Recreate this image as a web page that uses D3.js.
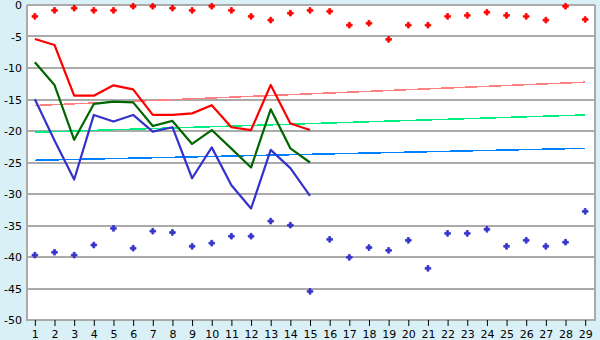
<!DOCTYPE html>
<html>
<head>
<meta charset="utf-8">
<script src="https://cdn.jsdelivr.net/npm/d3@7"></script>
<style>
  body { margin: 0; background: #d9f0f7; }
  svg { display: block; }
</style>
</head>
<body>
<div id="chart"></div>
<script>
var width = 600;
var height = 340;

// x categories 1..29
var days = d3.range(1, 30);
var yTicks = [0, -5, -10, -15, -20, -25, -30, -35, -40, -45, -50];

// scatter series (all 29 days)
var redDots = [-1.8, -0.85, -0.5, -0.85, -0.85, -0.2, -0.2, -0.5, -0.85, -0.2,
  -0.85, -1.8, -2.4, -1.3, -0.85, -1.0, -3.2, -2.9, -5.45, -3.2,
  -3.2, -1.8, -1.65, -1.15, -1.65, -1.8, -2.4, -0.2, -2.3];
var blueDots = [-39.7, -39.25, -39.7, -38.1, -35.45, -38.6, -35.9, -36.1, -38.3, -37.8,
  -36.7, -36.7, -34.3, -34.95, -45.45, -37.2, -40.05, -38.5, -38.95, -37.35,
  -41.8, -36.25, -36.25, -35.6, -38.3, -37.35, -38.3, -37.65, -32.75];

// line series (days 1..15)
var redLine = [-5.4, -6.35, -14.4, -14.4, -12.75, -13.4, -17.45, -17.45, -17.2, -15.9,
  -19.4, -19.85, -12.7, -18.8, -19.85];
var greenLine = [-9.1, -12.7, -21.4, -15.7, -15.35, -15.45, -19.2, -18.4, -22.05, -19.85,
  -22.8, -25.8, -16.55, -22.75, -25.0];
var blueLine = [-14.95, -21.5, -27.7, -17.45, -18.5, -17.45, -20.1, -19.4, -27.5, -22.6,
  -28.6, -32.3, -23.0, -25.9, -30.3];

// trend lines: value at day 1 and day 29
var trendDays = [1, 29];
var redTrend = [-15.95, -12.25];
var greenTrend = [-20.2, -17.45];
var blueTrend = [-24.65, -22.75];

var plotLeft = 27, plotRight = 595, plotTop = 5, plotBottom = 320;

var svg = d3.select("#chart").append("svg")
  .attr("width", width)
  .attr("height", height);

var x = d3.scaleLinear().domain([0.6, 29.5]).range([plotLeft, plotRight]);
var y = d3.scaleLinear().domain([0, -50]).range([plotTop, plotBottom]);

svg.append("rect")
  .attr("x", plotLeft).attr("y", plotTop)
  .attr("width", plotRight - plotLeft).attr("height", plotBottom - plotTop)
  .attr("fill", "#fff");

// gridlines
svg.append("g").selectAll("line")
  .data(yTicks)
  .enter().append("line")
  .attr("x1", plotLeft).attr("x2", plotRight)
  .attr("y1", function(d) { return Math.round(y(d)); })
  .attr("y2", function(d) { return Math.round(y(d)); })
  .attr("stroke", "#aaa")
  .attr("stroke-width", 2)
  .attr("shape-rendering", "crispEdges");

// frame
svg.append("path")
  .attr("d", "M" + plotLeft + "," + plotTop + "V" + plotBottom + "H" + plotRight + "V" + plotTop)
  .attr("fill", "none")
  .attr("stroke", "#aaa")
  .attr("stroke-width", 2)
  .attr("shape-rendering", "crispEdges");

// y labels
svg.append("g").selectAll("text")
  .data(yTicks)
  .enter().append("text")
  .attr("x", plotLeft - 5)
  .attr("y", function(d) { return y(d) + 4; })
  .attr("text-anchor", "end")
  .attr("font-family", "DejaVu Sans, Verdana, sans-serif")
  .attr("font-size", 11)
  .attr("fill", "#000")
  .text(function(d) { return d; });

// x axis
var xAxis = d3.axisBottom(x).tickValues(days).tickSize(6).tickPadding(4).tickFormat(d3.format("d"));
var gx = svg.append("g").attr("transform", "translate(0," + plotBottom + ")").call(xAxis);
gx.select(".domain").remove();
gx.selectAll(".tick line").attr("stroke", "#000");
gx.selectAll(".tick text")
  .attr("font-family", "DejaVu Sans, Verdana, sans-serif")
  .attr("font-size", 11)
  .attr("fill", "#000");

// trend lines
var trendLine = d3.line()
  .x(function(d, i) { return x(trendDays[i]); })
  .y(function(d) { return y(d); });
[[redTrend, "#ff8080"], [greenTrend, "#00ee80"], [blueTrend, "#0080ff"]].forEach(function(t) {
  svg.append("path")
    .attr("d", trendLine(t[0]))
    .attr("fill", "none")
    .attr("stroke", t[1])
    .attr("stroke-width", 1.5)
    .attr("shape-rendering", "crispEdges");
});

// main lines
var line = d3.line()
  .x(function(d, i) { return x(days[i]); })
  .y(function(d) { return y(d); });
[[blueLine, "#3333cc"], [greenLine, "#006600"], [redLine, "#ff0000"]].forEach(function(s) {
  svg.append("path")
    .attr("d", line(s[0]))
    .attr("fill", "none")
    .attr("stroke", s[1])
    .attr("stroke-width", 2.2)
    .attr("stroke-linejoin", "round");
});

// scatter markers
var cross = d3.symbol().type(d3.symbolCross).size(18);
[[redDots, "#ff0000"], [blueDots, "#3333cc"]].forEach(function(s) {
  svg.append("g").selectAll("path")
    .data(s[0])
    .enter().append("path")
    .attr("d", cross)
    .attr("transform", function(d, i) { return "translate(" + x(days[i]) + "," + y(d) + ")"; })
    .attr("fill", s[1])
    .attr("stroke", s[1])
    .attr("stroke-width", 0.8)
    .attr("stroke-linejoin", "round");
});
</script>
</body>
</html>
